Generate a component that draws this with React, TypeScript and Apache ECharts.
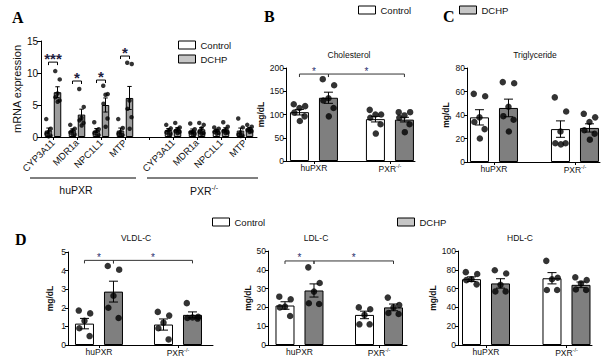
import React, { useEffect, useRef } from 'react';
import * as echarts from 'echarts';

const SANS = '"Liberation Sans", Arial, sans-serif';
const SERIF = '"Liberation Serif", "Times New Roman", serif';

// ---------------- Panel A data ----------------
const GENES = ['CYP3A11', 'MDR1a', 'NPC1L1', 'MTP'];
const GENOTYPES = ['huPXR', 'PXR-/-'];
const SERIES_NAMES = ['Control', 'DCHP'];
const A_Y_MAX = 15;
const A_Y_STEP = 5;
// order: huPXR genes, then PXR-/- genes
const A_CTRL_MEAN = [1.0, 1.0, 1.0, 1.0, 1.1, 1.0, 1.0, 1.0];
const A_CTRL_SEM = [0.4, 0.27, 0.32, 0.4, 0.22, 0.25, 0.15, 0.4];
const A_DCHP_MEAN = [7.0, 3.5, 5.0, 6.1, 1.2, 1.2, 1.2, 1.3];
const A_DCHP_SEM = [0.85, 0.85, 1.1, 1.8, 0.25, 0.28, 0.25, 0.17];
const A_CTRL_POINTS = [
  [2.8, 1.3, 0.8, 0.5, 0.2, 0.1],
  [1.9, 1.3, 1.0, 0.7, 0.4, 0.3],
  [2.3, 1.2, 0.9, 0.6, 0.3, 0.2],
  [2.8, 1.4, 0.8, 0.5, 0.3, 0.2],
  [1.9, 1.35, 1.0, 0.7, 0.5, 0.4],
  [2.1, 1.2, 0.8, 0.7, 0.5, 0.4],
  [1.5, 1.3, 1.0, 0.8, 0.6, 0.5],
  [2.9, 1.5, 0.7, 0.4, 0.2, 0.15],
];
const A_DCHP_POINTS = [
  [10.3, 9.0, 6.8, 6.2, 5.7, 5.5],
  [7.5, 4.7, 3.0, 2.6, 2.2, 1.8],
  [8.0, 6.7, 6.6, 5.2, 2.9, 1.6],
  [11.6, 11.4, 5.7, 4.4, 3.1, 1.3],
  [2.2, 1.5, 1.2, 0.9, 0.8, 0.6],
  [2.2, 1.9, 1.35, 0.8, 0.6, 0.5],
  [2.3, 1.6, 1.1, 0.9, 0.7, 0.6],
  [1.9, 1.6, 1.25, 1.1, 0.9, 0.8],
];
// [gene index (huPXR), bracket level, label]
const A_SIG: [number, number, string][] = [
  [0, 11.7, '***'],
  [1, 8.75, '*'],
  [2, 8.9, '*'],
  [3, 12.65, '*'],
];

// ---------------- Panels B-D data ----------------
const CHOL_CTRL_MEAN = [105, 90];
const CHOL_CTRL_SEM = [6, 6];
const CHOL_DCHP_MEAN = [136, 89];
const CHOL_DCHP_SEM = [12, 5];
const CHOL_CTRL_POINTS = [[122, 118, 114, 104, 96, 86], [110, 100, 100, 93, 79, 59]];
const CHOL_DCHP_POINTS = [[176, 163, 135, 130, 114, 96], [105, 105, 98, 93, 79, 62]];
const CHOL_SIG: [number, number, number, number, number, string][] = [
  [0, 0, 0, 1, 187, '*'],
  [0, 1, 1, 1, 187, '*'],
];

const TG_CTRL_MEAN = [38, 28];
const TG_CTRL_SEM = [6.5, 7];
const TG_DCHP_MEAN = [46, 29];
const TG_DCHP_SEM = [7.5, 3.5];
const TG_CTRL_POINTS = [[58, 56, 38, 34, 28, 20], [55, 43, 26, 16, 16, 15]];
const TG_DCHP_POINTS = [[68, 67, 47, 39, 36, 26], [41, 38, 34, 27, 24, 19]];

const VLDL_CTRL_MEAN = [1.15, 1.1];
const VLDL_CTRL_SEM = [0.28, 0.3];
const VLDL_DCHP_MEAN = [2.87, 1.62];
const VLDL_DCHP_SEM = [0.56, 0.16];
const VLDL_CTRL_POINTS = [[1.85, 1.7, 1.3, 0.9, 0.48], [1.78, 1.58, 1.2, 0.9, 0.3]];
const VLDL_DCHP_POINTS = [[4.25, 4.05, 2.65, 2.0, 1.45], [2.25, 1.52, 1.48, 1.45, 1.42]];
const VLDL_SIG: [number, number, number, number, number, string][] = [
  [0, 0, 0, 1, 4.55, '*'],
  [0, 1, 1, 1, 4.55, '*'],
];

const LDL_CTRL_MEAN = [21, 16];
const LDL_CTRL_SEM = [2, 2];
const LDL_DCHP_MEAN = [29, 20];
const LDL_DCHP_SEM = [3.5, 1.8];
const LDL_CTRL_POINTS = [[25.7, 24.3, 20.4, 20, 15.4], [20, 19, 16, 11, 11]];
const LDL_DCHP_POINTS = [[41.3, 33, 28.4, 22.2, 21.8], [25.2, 21.3, 20, 17, 16.5]];
const LDL_SIG: [number, number, number, number, number, string][] = [
  [0, 0, 0, 1, 44.7, '*'],
  [0, 1, 1, 1, 44.7, '*'],
];

const HDL_CTRL_MEAN = [70, 71];
const HDL_CTRL_SEM = [2.5, 6];
const HDL_DCHP_MEAN = [65.5, 64];
const HDL_DCHP_SEM = [5, 3];
const HDL_CTRL_POINTS = [[77.5, 75.5, 70, 69, 64.5], [89.5, 71.5, 70, 58.5, 58.5]];
const HDL_DCHP_POINTS = [[79.5, 76, 64, 57, 57], [72, 69, 65.5, 59, 58.5]];

const LIPID_TITLES = ['Cholesterol', 'Triglyceride', 'VLDL-C', 'LDL-C', 'HDL-C'];
const LIPID_Y_MAX = [200, 80, 5, 50, 100];
const LIPID_Y_STEP = [50, 20, 1, 10, 20];
const Y_NAME = 'mg/dL';
const A_Y_NAME = 'mRNA expression';

// ---------------- layout / style (no data) ----------------
const BW = 19;
const OFF = 14.5;
const CAP = 4.5;
const DOT = 6.5;
const A_BW = 7.5;
const A_OFF = 4.5;
const A_CAP = 2.2;
const A_DOT = 4.5;
const JITTER = [-0.3, 0.3, 0, -0.27, 0.27, 0.02];
const CTRL_FILL = '#ffffff';
const DCHP_FILL_A = '#9c9c9c';
const DCHP_FILL = '#7f7f7f';
const LEGEND_DCHP = '#c6c6c6';

const PANEL_LAYOUT = [
  { left: 286, top: 68, width: 129, height: 93, xMin: -0.368, xMax: 1.33, nameGap: 21, tx: 349, ty: 55 },
  { left: 467, top: 68, width: 133, height: 94, xMin: -0.333, xMax: 1.309, nameGap: 17, tx: 535, ty: 55 },
  { left: 68, top: 252, width: 145, height: 93, xMin: -0.392, xMax: 1.443, nameGap: 14, tx: 136, ty: 238 },
  { left: 268, top: 251, width: 139, height: 94, xMin: -0.396, xMax: 1.352, nameGap: 16, tx: 316, ty: 238 },
  { left: 458, top: 251, width: 134, height: 94, xMin: -0.348, xMax: 1.317, nameGap: 19, tx: 520, ty: 238 },
];

const LIPIDS = [
  { cm: CHOL_CTRL_MEAN, cs: CHOL_CTRL_SEM, dm: CHOL_DCHP_MEAN, ds: CHOL_DCHP_SEM, cp: CHOL_CTRL_POINTS, dp: CHOL_DCHP_POINTS, sig: CHOL_SIG },
  { cm: TG_CTRL_MEAN, cs: TG_CTRL_SEM, dm: TG_DCHP_MEAN, ds: TG_DCHP_SEM, cp: TG_CTRL_POINTS, dp: TG_DCHP_POINTS, sig: [] as any[] },
  { cm: VLDL_CTRL_MEAN, cs: VLDL_CTRL_SEM, dm: VLDL_DCHP_MEAN, ds: VLDL_DCHP_SEM, cp: VLDL_CTRL_POINTS, dp: VLDL_DCHP_POINTS, sig: VLDL_SIG },
  { cm: LDL_CTRL_MEAN, cs: LDL_CTRL_SEM, dm: LDL_DCHP_MEAN, ds: LDL_DCHP_SEM, cp: LDL_CTRL_POINTS, dp: LDL_DCHP_POINTS, sig: LDL_SIG },
  { cm: HDL_CTRL_MEAN, cs: HDL_CTRL_SEM, dm: HDL_DCHP_MEAN, ds: HDL_DCHP_SEM, cp: HDL_CTRL_POINTS, dp: HDL_DCHP_POINTS, sig: [] as any[] },
];

const supLabel = (name: string) =>
  name.includes('-/-') ? `{n|${name.replace('-/-', '')}}{s|-/-}` : name;

function errorBarSeries(axis: number, data: number[][], off: number, cap: number, z: number) {
  return {
    type: 'custom',
    name: 'err',
    xAxisIndex: axis,
    yAxisIndex: axis,
    z,
    silent: true,
    data,
    encode: { x: 0, y: 1 },
    renderItem: (params: any, api: any) => {
      const x = api.value(0);
      const m = api.value(1);
      const s = api.value(2);
      const t = api.coord([x, m + s]);
      const b = api.coord([x, m - s]);
      const cx = t[0] + off;
      const st = { stroke: '#000', lineWidth: 1 };
      return {
        type: 'group',
        children: [
          { type: 'line', shape: { x1: cx, y1: t[1], x2: cx, y2: b[1] }, style: st },
          { type: 'line', shape: { x1: cx - cap, y1: t[1], x2: cx + cap, y2: t[1] }, style: st },
          { type: 'line', shape: { x1: cx - cap, y1: b[1], x2: cx + cap, y2: b[1] }, style: st },
        ],
      };
    },
  };
}

function pointSeries(axis: number, pts: number[][], xs: number[], off: number, bw: number, size: number) {
  const data: any[] = [];
  pts.forEach((arr, g) => {
    arr.forEach((v, i) => {
      data.push({ value: [xs[g], v], symbolOffset: [off + JITTER[i % JITTER.length] * bw, 0] });
    });
  });
  return {
    type: 'scatter',
    name: 'pts',
    xAxisIndex: axis,
    yAxisIndex: axis,
    symbol: 'circle',
    symbolSize: size,
    itemStyle: { color: '#000' },
    silent: true,
    z: 4,
    data,
  };
}

function buildOption() {
  const grid: any[] = [];
  const xAxis: any[] = [];
  const yAxis: any[] = [];
  const series: any[] = [];
  const graphic: any[] = [];

  const axisLine = { show: true, onZero: false, lineStyle: { color: '#000', width: 1 } };

  // ---------- Panel A ----------
  const aCats = [...GENES.map((g) => `hu|${g}`), 'gap|', ...GENES.map((g) => `ko|${g}`)];
  const aIdx = A_CTRL_MEAN.map((_, i) => (i < GENES.length ? i : i + 1));
  grid.push({ left: 41, top: 41, width: 216, height: 96 });
  xAxis.push({
    type: 'category',
    gridIndex: 0,
    data: aCats,
    axisLine,
    axisTick: { show: true, alignWithLabel: true, interval: 0, length: 3, lineStyle: { color: '#000' } },
    axisLabel: {
      interval: 0,
      rotate: 45,
      margin: 4,
      fontSize: 9.5,
      fontFamily: SANS,
      color: '#111',
      formatter: (v: string) => v.split('|')[1],
    },
    splitLine: { show: false },
  });
  yAxis.push({
    type: 'value',
    gridIndex: 0,
    min: 0,
    max: A_Y_MAX,
    interval: A_Y_STEP,
    axisLine,
    axisTick: { show: true, length: 4, lineStyle: { color: '#000' } },
    axisLabel: { fontSize: 10, fontFamily: SANS, color: '#111', margin: 3 },
    splitLine: { show: false },
    name: A_Y_NAME,
    nameLocation: 'middle',
    nameGap: 17,
    nameTextStyle: { fontSize: 11, fontFamily: SANS, color: '#111' },
  });
  series.push({
    type: 'bar',
    name: SERIES_NAMES[0],
    xAxisIndex: 0,
    yAxisIndex: 0,
    barWidth: A_BW,
    barGap: '20%',
    itemStyle: { color: CTRL_FILL, borderColor: '#000', borderWidth: 1 },
    data: aIdx.map((c, i) => [c, A_CTRL_MEAN[i]]),
    z: 2,
  });
  series.push({
    type: 'bar',
    name: SERIES_NAMES[1],
    xAxisIndex: 0,
    yAxisIndex: 0,
    barWidth: A_BW,
    barGap: '20%',
    itemStyle: { color: DCHP_FILL_A, borderColor: '#000', borderWidth: 1 },
    data: aIdx.map((c, i) => [c, A_DCHP_MEAN[i]]),
    z: 2,
  });
  series.push(pointSeries(0, A_CTRL_POINTS, aIdx, -A_OFF, A_BW, A_DOT));
  series.push(pointSeries(0, A_DCHP_POINTS, aIdx, A_OFF, A_BW, A_DOT));
  series.push(errorBarSeries(0, aIdx.map((c, i) => [c, A_CTRL_MEAN[i], A_CTRL_SEM[i]]), -A_OFF, A_CAP, 5));
  series.push(errorBarSeries(0, aIdx.map((c, i) => [c, A_DCHP_MEAN[i], A_DCHP_SEM[i]]), A_OFF, A_CAP, 5));
  series.push({
    type: 'custom',
    name: 'sigA',
    xAxisIndex: 0,
    yAxisIndex: 0,
    silent: true,
    z: 6,
    data: A_SIG.map((s) => [s[0], s[1]]),
    encode: { x: 0, y: 1 },
    renderItem: (params: any, api: any) => {
      const p = api.coord([api.value(0), api.value(1)]);
      const x1 = p[0] - A_OFF;
      const x2 = p[0] + A_OFF;
      const y = p[1];
      return {
        type: 'group',
        children: [
          {
            type: 'polyline',
            shape: { points: [[x1, y + 3], [x1, y], [x2, y], [x2, y + 3]] },
            style: { stroke: '#000', lineWidth: 1, fill: null },
          },
          {
            type: 'text',
            x: (x1 + x2) / 2,
            y: y + 4,
            style: {
              text: A_SIG[params.dataIndex][2],
              fontSize: 15,
              fontWeight: 'bold',
              fontFamily: SANS,
              fill: '#1d2040',
              align: 'center',
              verticalAlign: 'bottom',
            },
          },
        ],
      };
    },
  });

  // ---------- Panels B-D ----------
  LIPIDS.forEach((d, k) => {
    const ax = k + 1;
    const L = PANEL_LAYOUT[k];
    const gx = GENOTYPES.map((_, i) => i);
    grid.push({ left: L.left, top: L.top, width: L.width, height: L.height });
    xAxis.push({
      type: 'value',
      gridIndex: ax,
      min: L.xMin,
      max: L.xMax,
      axisLine,
      axisTick: { show: true, length: 3, customValues: gx, lineStyle: { color: '#000' } },
      axisLabel: {
        customValues: gx,
        margin: 2,
        fontSize: 8.5,
        fontFamily: SANS,
        color: '#111',
        formatter: (v: number) => supLabel(GENOTYPES[Math.round(v)] || ''),
        rich: {
          n: { fontSize: 8.5, fontFamily: SANS, color: '#111', lineHeight: 10, verticalAlign: 'bottom' },
          s: { fontSize: 5.5, fontFamily: SANS, color: '#111', lineHeight: 6, verticalAlign: 'top' },
        },
      },
      splitLine: { show: false },
    });
    yAxis.push({
      type: 'value',
      gridIndex: ax,
      min: 0,
      max: LIPID_Y_MAX[k],
      interval: LIPID_Y_STEP[k],
      axisLine,
      axisTick: { show: true, length: 3, lineStyle: { color: '#000' } },
      axisLabel: { fontSize: 8.5, fontFamily: SANS, color: '#111', margin: 2 },
      splitLine: { show: false },
      name: Y_NAME,
      nameLocation: 'middle',
      nameGap: L.nameGap,
      nameTextStyle: { fontSize: 8.5, fontWeight: 'bold', fontFamily: SANS, color: '#111' },
    });
    const gap = `${((2 * OFF - BW) / BW) * 100}%`;
    series.push({
      type: 'bar',
      name: SERIES_NAMES[0],
      xAxisIndex: ax,
      yAxisIndex: ax,
      barWidth: BW,
      barGap: gap,
      itemStyle: { color: CTRL_FILL, borderColor: '#000', borderWidth: 1 },
      data: gx.map((g) => [g, d.cm[g]]),
      z: 2,
    });
    series.push({
      type: 'bar',
      name: SERIES_NAMES[1],
      xAxisIndex: ax,
      yAxisIndex: ax,
      barWidth: BW,
      barGap: gap,
      itemStyle: { color: DCHP_FILL, borderColor: '#000', borderWidth: 1 },
      data: gx.map((g) => [g, d.dm[g]]),
      z: 2,
    });
    series.push(pointSeries(ax, d.cp, gx, -OFF, BW, DOT));
    series.push(pointSeries(ax, d.dp, gx, OFF, BW, DOT));
    series.push(errorBarSeries(ax, gx.map((g) => [g, d.cm[g], d.cs[g]]), -OFF, CAP, 5));
    series.push(errorBarSeries(ax, gx.map((g) => [g, d.dm[g], d.ds[g]]), OFF, CAP, 5));
    if (d.sig.length) {
      const sig = d.sig;
      series.push({
        type: 'custom',
        name: 'sig',
        xAxisIndex: ax,
        yAxisIndex: ax,
        silent: true,
        z: 6,
        data: sig.map((s: any) => [s[0], s[1], s[2], s[3], s[4]]),
        encode: { x: [0, 2], y: 4 },
        renderItem: (params: any, api: any) => {
          const lvl = api.value(4);
          const p1 = api.coord([api.value(0), lvl]);
          const p2 = api.coord([api.value(2), lvl]);
          const x1 = p1[0] + (api.value(1) ? OFF : -OFF);
          const x2 = p2[0] + (api.value(3) ? OFF : -OFF);
          const y = p1[1];
          return {
            type: 'group',
            children: [
              {
                type: 'polyline',
                shape: { points: [[x1, y + 3], [x1, y], [x2, y], [x2, y + 3]] },
                style: { stroke: '#333', lineWidth: 1, fill: null },
              },
              {
                type: 'text',
                x: (x1 + x2) / 2,
                y: y + 2,
                style: {
                  text: sig[params.dataIndex][5],
                  fontSize: 10,
                  fontFamily: SANS,
                  fill: '#2a2f6e',
                  align: 'center',
                  verticalAlign: 'bottom',
                },
              },
            ],
          };
        },
      });
    }
    graphic.push({
      type: 'text',
      x: L.tx,
      y: L.ty,
      style: {
        text: LIPID_TITLES[k],
        fontSize: 8.5,
        fontFamily: SANS,
        fill: '#111',
        align: 'center',
        verticalAlign: 'middle',
      },
    });
  });

  // ---------- graphics: letters, group labels ----------
  const letters: [string, number, number][] = [
    ['A', 12, 9],
    ['B', 264, 8],
    ['C', 443, 8],
    ['D', 15, 231],
  ];
  letters.forEach(([t, x, y]) =>
    graphic.push({
      type: 'text',
      x,
      y,
      style: { text: t, fontSize: 16, fontWeight: 'bold', fontFamily: SERIF, fill: '#000' },
    })
  );
  graphic.push({ type: 'line', shape: { x1: 30, y1: 178, x2: 136, y2: 178 }, style: { stroke: '#000', lineWidth: 1 } });
  graphic.push({ type: 'line', shape: { x1: 147, y1: 178, x2: 258, y2: 178 }, style: { stroke: '#000', lineWidth: 1 } });
  graphic.push({
    type: 'text',
    x: 76,
    y: 190,
    style: { text: GENOTYPES[0], fontSize: 10.5, fontFamily: SANS, fill: '#111', align: 'center', verticalAlign: 'middle' },
  });
  graphic.push({
    type: 'text',
    x: 204,
    y: 190,
    style: {
      text: supLabel(GENOTYPES[1]),
      align: 'center',
      verticalAlign: 'middle',
      rich: {
        n: { fontSize: 10.5, fontFamily: SANS, fill: '#111', lineHeight: 12, verticalAlign: 'bottom' },
        s: { fontSize: 7, fontFamily: SANS, fill: '#111', lineHeight: 7, verticalAlign: 'top' },
      },
    },
  });

  const legBase = {
    icon: 'rect',
    itemWidth: 17,
    itemHeight: 8,
    padding: 0,
    selectedMode: false,
    textStyle: { fontSize: 9.5, fontFamily: SANS, color: '#111' },
    itemStyle: { borderColor: '#000', borderWidth: 1 },
  };
  const ctrlItem = { name: SERIES_NAMES[0], itemStyle: { color: CTRL_FILL, borderColor: '#000', borderWidth: 1 } };
  const dchpItem = { name: SERIES_NAMES[1], itemStyle: { color: LEGEND_DCHP, borderColor: '#000', borderWidth: 1 } };
  const legend = [
    { ...legBase, data: [ctrlItem, dchpItem], orient: 'vertical', left: 178, top: 40, itemGap: 4 },
    { ...legBase, data: [ctrlItem], left: 358, top: 5 },
    { ...legBase, data: [dchpItem], left: 459, top: 5 },
    { ...legBase, data: [ctrlItem], left: 212, top: 217 },
    { ...legBase, data: [dchpItem], left: 397, top: 217 },
  ];

  return {
    animation: false,
    backgroundColor: '#ffffff',
    textStyle: { fontFamily: SANS },
    grid,
    xAxis,
    yAxis,
    series,
    legend,
    graphic,
  };
}

export default function App() {
  const ref = useRef<HTMLDivElement>(null);
  useEffect(() => {
    if (!ref.current) return;
    const chart = echarts.init(ref.current, undefined, { renderer: 'svg' });
    chart.setOption(buildOption() as any);
    return () => chart.dispose();
  }, []);
  return (
    <div
      ref={ref}
      style={{ position: 'fixed', left: 0, top: 0, width: 610, height: 363, background: '#fff' }}
    />
  );
}
